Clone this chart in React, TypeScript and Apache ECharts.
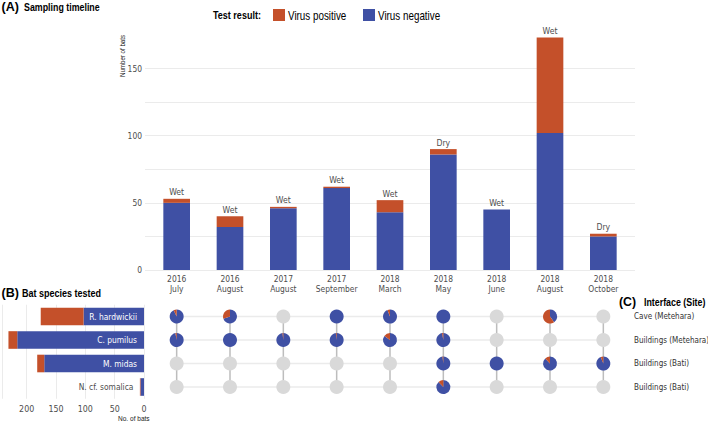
import React, { useEffect, useRef } from "react";
import * as echarts from "echarts";

// ---------- data ----------
const periods = [
  "2016\nJuly",
  "2016\nAugust",
  "2017\nAugust",
  "2017\nSeptember",
  "2018\nMarch",
  "2018\nMay",
  "2018\nJune",
  "2018\nAugust",
  "2018\nOctober",
];
const season = ["Wet", "Wet", "Wet", "Wet", "Wet", "Dry", "Wet", "Wet", "Dry"];
const virusNegative = [50, 32, 46, 61, 43, 86, 45, 102, 25];
const virusPositive = [3, 8, 1, 1, 9, 4, 0, 71, 2];
const countTicks = [0, 50, 100, 150];

const species = ["R. hardwickii", "C. pumilus", "M. midas", "N. cf. somalica"];
const speciesNegative = [103, 216, 170, 6];
const speciesPositive = [73, 15, 12, 1];
const speciesTicks = [0, 50, 100, 150, 200];

const interfaces = ["Cave (Metehara)", "Buildings (Metehara)", "Buildings (Bati)", "Buildings (Bati)"];
// share of virus-positive bats per period (null = not sampled)
const cavePositiveShare = [0.07, 0.3, null, 0, 0.06, 0, null, 0.6, null];
const metBuildingsPositiveShare = [0.03, 0, 0.02, 0.02, 0.15, 0.03, null, null, null];
const batiBuildingsAPositiveShare = [null, null, null, null, null, 0.02, 0, 0.12, 0.06];
const batiBuildingsBPositiveShare = [null, null, null, null, null, 0.12, null, null, null];

const legendItems = ["Virus positive", "Virus negative"];

// ---------- styles ----------
const COND = "'DejaVu Sans Condensed','Liberation Sans Narrow',sans-serif";
const SANS = "'Liberation Sans',Arial,sans-serif";
const NARROW_SCALE = 0.82;
const ORANGE = "#c4502a";
const BLUE = "#3f50a4";
const AXIS_TEXT = "#4d4d4d";
const GRID = "#ebebeb";

function narrowText(text: string, x: number, y: number, size: number, bold: boolean, extra: any = {}) {
  return {
    type: "text",
    x,
    y,
    scaleX: NARROW_SCALE,
    silent: true,
    style: {
      text,
      fontSize: size,
      fontWeight: bold ? "bold" : "normal",
      fontFamily: SANS,
      fill: "#000",
      align: "left",
      verticalAlign: "middle",
      ...extra,
    },
  };
}

export default function App() {
  const ref = useRef<HTMLDivElement>(null);

  useEffect(() => {
    const chart = echarts.init(ref.current!, null, { renderer: "svg" });

    const shareRows = [
      cavePositiveShare,
      metBuildingsPositiveShare,
      batiBuildingsAPositiveShare,
      batiBuildingsBPositiveShare,
    ];
    const cellData: number[][] = [];
    shareRows.forEach((row, r) =>
      row.forEach((s, c) => cellData.push([c, r, s === null ? 0 : s, s === null ? 0 : 1]))
    );

    const hLines = interfaces.map((_, r) => ({
      type: "line",
      xAxisIndex: 3,
      yAxisIndex: 3,
      data: [
        [0, r],
        [periods.length - 1, r],
      ],
      symbol: "none",
      silent: true,
      lineStyle: { color: GRID, width: 1.3 },
      z: 1,
    }));
    const vLines = periods.map((_, c) => ({
      type: "line",
      xAxisIndex: 3,
      yAxisIndex: 3,
      data: [
        [c, 0],
        [c, interfaces.length - 1],
      ],
      symbol: "none",
      silent: true,
      lineStyle: { color: "#bdbdbd", width: 1.5 },
      z: 2,
    }));

    const legendColors = [ORANGE, BLUE];
    const legendX = [273, 363];
    const legendGraphics: any[] = [];
    legendItems.forEach((name, i) => {
      legendGraphics.push({
        type: "rect",
        silent: true,
        shape: { x: legendX[i], y: 9, width: 12, height: 12 },
        style: { fill: legendColors[i] },
      });
      legendGraphics.push(narrowText(name, legendX[i] + 15, 15.5, 12, false));
    });

    const option: any = {
      animation: false,
      textStyle: { fontFamily: COND },
      grid: [
        { left: 150, right: 78, top: 28.2, bottom: 152, outerBoundsMode: "none" },
        { left: 145, right: 73, top: 68.5, bottom: 152, outerBoundsMode: "none" },
        { left: 2, right: 564, top: 304.75, height: 94, outerBoundsMode: "none" },
        { left: 150, right: 78, top: 304.75, height: 94, outerBoundsMode: "none" },
      ],
      xAxis: [
        {
          type: "category",
          gridIndex: 0,
          data: periods,
          axisLine: { show: false },
          axisTick: { show: false },
          axisLabel: {
            interval: 0,
            color: AXIS_TEXT,
            fontSize: 8.4,
            lineHeight: 10,
            margin: 4,
            fontFamily: COND,
          },
        },
        { type: "value", gridIndex: 1, min: 0, max: 1, show: false },
        {
          type: "value",
          gridIndex: 2,
          inverse: true,
          min: 0,
          max: 242,
          interval: 50,
          axisLine: { show: false },
          axisTick: { show: false },
          splitLine: { lineStyle: { color: GRID, width: 1 } },
          axisLabel: {
            color: AXIS_TEXT,
            fontSize: 8.8,
            margin: 6,
            showMaxLabel: false,
            fontFamily: COND,
            formatter: (v: number) => (speciesTicks.includes(v) ? String(v) : ""),
          },
        },
        { type: "category", gridIndex: 3, data: periods, show: false },
      ],
      yAxis: [
        { type: "value", gridIndex: 0, min: 0, max: 180, show: false },
        {
          type: "value",
          gridIndex: 1,
          min: 0,
          max: 150,
          interval: 25,
          axisLine: { show: false },
          axisTick: { show: false },
          splitLine: { lineStyle: { color: GRID, width: 1 } },
          axisLabel: {
            color: AXIS_TEXT,
            fontSize: 8.4,
            margin: 3,
            fontFamily: COND,
            formatter: (v: number) => (countTicks.includes(v) ? String(v) : ""),
          },
        },
        {
          type: "category",
          gridIndex: 2,
          data: species,
          inverse: true,
          show: false,
        },
        {
          type: "category",
          gridIndex: 3,
          data: interfaces,
          inverse: true,
          position: "right",
          axisLine: { show: false },
          axisTick: { show: false },
          splitLine: { show: false },
          axisLabel: {
            color: "#333",
            fontSize: 8,
            margin: 4,
            align: "left",
            fontFamily: COND,
            formatter: (_v: string, i: number) => interfaces[i],
          },
        },
      ],
      series: [
        {
          name: "Virus negative",
          type: "bar",
          xAxisIndex: 0,
          yAxisIndex: 0,
          stack: "time",
          barWidth: "50%",
          data: virusNegative,
          itemStyle: { color: BLUE },
        },
        {
          name: "Virus positive",
          type: "bar",
          xAxisIndex: 0,
          yAxisIndex: 0,
          stack: "time",
          barWidth: "50%",
          data: virusPositive,
          itemStyle: { color: ORANGE },
          label: {
            show: true,
            position: "top",
            distance: 2,
            color: AXIS_TEXT,
            fontSize: 8.6,
            fontFamily: COND,
            formatter: (p: any) => season[p.dataIndex],
          },
        },
        {
          name: "Virus negative",
          type: "bar",
          xAxisIndex: 2,
          yAxisIndex: 2,
          stack: "species",
          barCategoryGap: "25%",
          data: speciesNegative.map((v, i) => ({
            value: v,
            label:
              i < 3
                ? { show: true, position: "insideRight", distance: 7, color: "#fff" }
                : { show: true, position: "left", distance: 7, color: AXIS_TEXT },
          })),
          itemStyle: { color: BLUE },
          label: {
            fontSize: 8.4,
            fontFamily: COND,
            formatter: (p: any) => species[p.dataIndex],
          },
        },
        {
          name: "Virus positive",
          type: "bar",
          xAxisIndex: 2,
          yAxisIndex: 2,
          stack: "species",
          barCategoryGap: "25%",
          data: speciesPositive,
          itemStyle: { color: ORANGE },
        },
        ...hLines,
        ...vLines,
        {
          type: "custom",
          xAxisIndex: 3,
          yAxisIndex: 3,
          data: cellData,
          z: 5,
          silent: true,
          renderItem: (_params: any, api: any) => {
            const c = api.value(0);
            const r = api.value(1);
            const share = api.value(2);
            const sampled = api.value(3);
            const pt = api.coord([c, r]);
            const R = 7;
            if (!sampled) {
              return { type: "circle", shape: { cx: pt[0], cy: pt[1], r: R }, style: { fill: "#d9d9d9" } };
            }
            if (share <= 0) {
              return { type: "circle", shape: { cx: pt[0], cy: pt[1], r: R }, style: { fill: BLUE } };
            }
            const start = -Math.PI / 2;
            const mid = start + 2 * Math.PI * (1 - share);
            return {
              type: "group",
              children: [
                {
                  type: "sector",
                  shape: { cx: pt[0], cy: pt[1], r0: 0, r: R, startAngle: start, endAngle: mid, clockwise: true },
                  style: { fill: BLUE },
                },
                {
                  type: "sector",
                  shape: {
                    cx: pt[0],
                    cy: pt[1],
                    r0: 0,
                    r: R,
                    startAngle: mid,
                    endAngle: start + 2 * Math.PI,
                    clockwise: true,
                  },
                  style: { fill: ORANGE },
                },
              ],
            };
          },
        },
      ],
      graphic: [
        {
          type: "text",
          x: 1.5,
          y: 7,
          silent: true,
          style: {
            text: "(A)",
            fontSize: 12.5,
            fontWeight: "bold",
            fontFamily: SANS,
            fill: "#000",
            verticalAlign: "middle",
          },
        },
        narrowText("Sampling timeline", 24, 7, 10.8, true),
        narrowText("Test result:", 213, 15.5, 11, true),
        {
          type: "text",
          x: 122.7,
          y: 56,
          rotation: Math.PI / 2,
          scaleX: NARROW_SCALE,
          silent: true,
          style: {
            text: "Number of bats",
            fontSize: 7.5,
            fontFamily: SANS,
            fill: "#222",
            align: "center",
            verticalAlign: "middle",
          },
        },
        {
          type: "text",
          x: 1.5,
          y: 293,
          silent: true,
          style: {
            text: "(B)",
            fontSize: 12.5,
            fontWeight: "bold",
            fontFamily: SANS,
            fill: "#000",
            verticalAlign: "middle",
          },
        },
        narrowText("Bat species tested", 22, 293.5, 11, true),
        narrowText("No. of bats", 118, 418, 8, false, { fill: "#222" }),
        {
          type: "text",
          x: 619,
          y: 302,
          silent: true,
          style: {
            text: "(C)",
            fontSize: 12.3,
            fontWeight: "bold",
            fontFamily: SANS,
            fill: "#000",
            verticalAlign: "middle",
          },
        },
        narrowText("Interface (Site)", 644, 302.5, 10.8, true),
        ...legendGraphics,
      ],
    };

    chart.setOption(option);
    return () => chart.dispose();
  }, []);

  return (
    <div
      ref={ref}
      style={{ position: "fixed", left: 0, top: 0, width: 708, height: 422, background: "#fff" }}
    />
  );
}
